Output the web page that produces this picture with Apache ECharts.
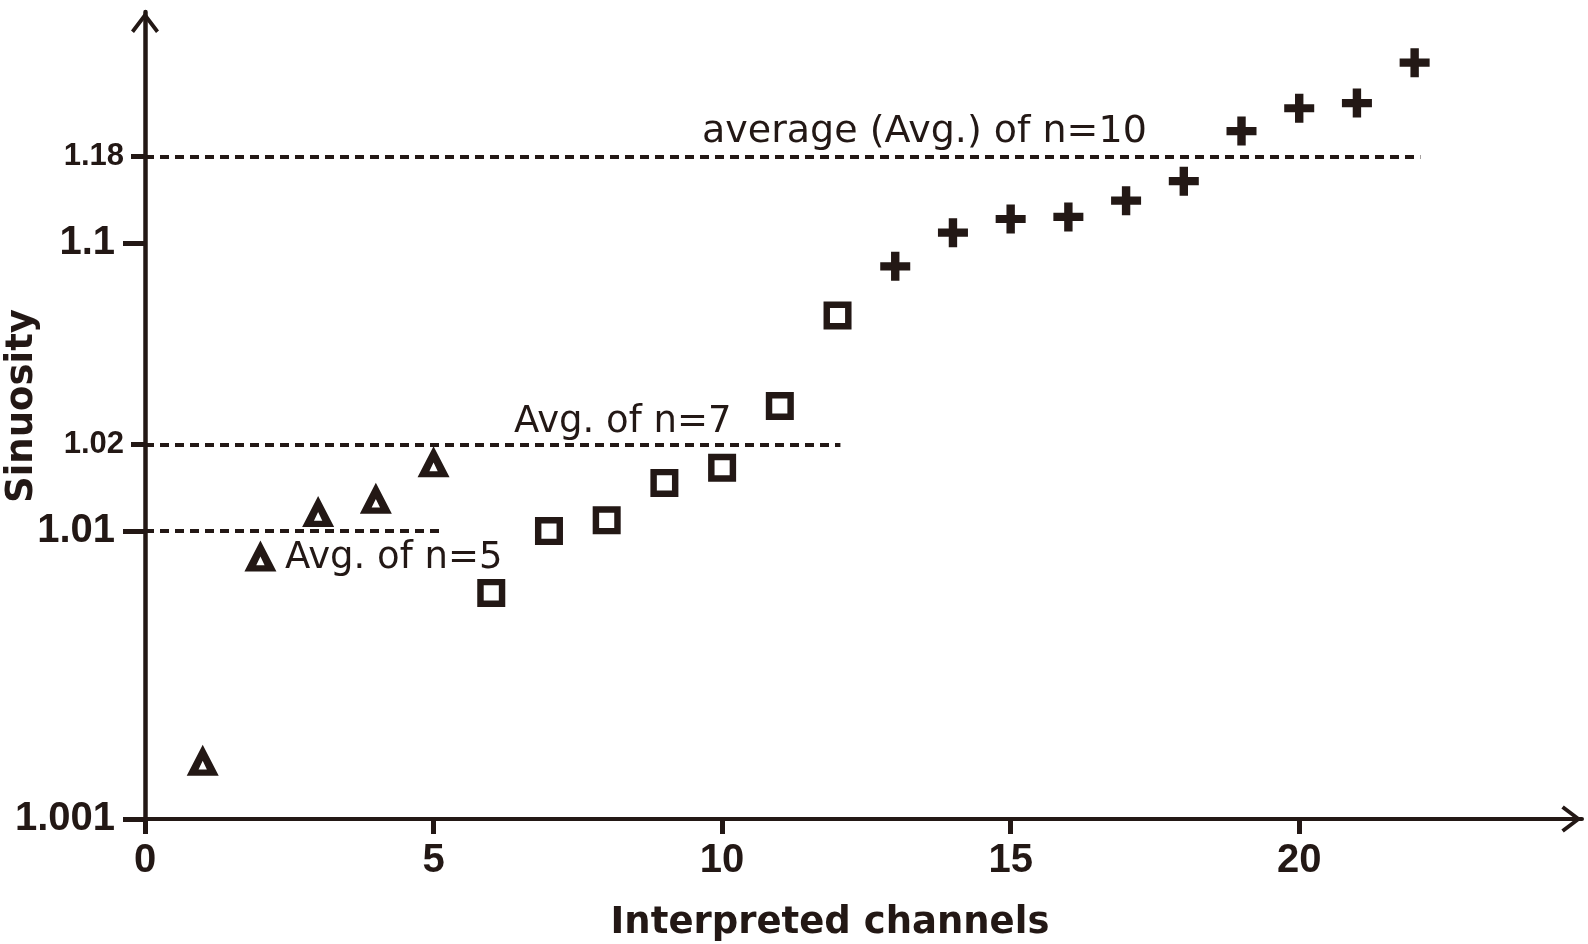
<!DOCTYPE html>
<html>
<head>
<meta charset="utf-8">
<script src="https://cdn.jsdelivr.net/npm/echarts@6/dist/echarts.min.js"></script>
<style>html,body{margin:0;padding:0;background:#fff}#c{width:1588px;height:944px}</style>
</head>
<body>
<div id="c"></div>
<script>
// ---- data ----
const triangleChannels = [1, 2, 3, 4, 5];
const triangleSinuosity = [1.0016, 1.0082, 1.0117, 1.0130, 1.0174];
const squareChannels = [6, 7, 8, 9, 10, 11, 12];
const squareSinuosity = [1.0061, 1.0100, 1.0109, 1.0147, 1.0166, 1.0272, 1.0561];
const plusChannels = [13, 14, 15, 16, 17, 18, 19, 20, 21, 22];
const plusSinuosity = [1.0831, 1.1088, 1.1213, 1.1234, 1.1405, 1.1642, 1.2451, 1.2943, 1.3066, 1.4236];

const averageLevels = [1.01, 1.02, 1.2];          // where the dashed lines sit on the axis
const averageEnds = [5.1, 12.05, 22.1];           // channel where each dashed line stops
const averageLabels = ['Avg. of n=5', 'Avg. of n=7', 'average (Avg.) of n=10'];

const xTicks = [0, 5, 10, 15, 20];
const yMajorTicks = [1.001, 1.01, 1.1];
const yMajorLabels = ['1.001', '1.01', '1.1'];
const yMinorTicks = [1.02, 1.2];
const yMinorLabels = ['1.02', '1.18'];

// ---- helpers ----
const INK = '#231815';
const t = s => Math.log10(+(s - 1).toFixed(6));   // log scale of (sinuosity - 1)
const Y_MIN = t(1.001);
const Y_MAX = -0.197;
const fmt = (ticks, labels) => v => {
  for (let i = 0; i < ticks.length; i++) if (Math.abs(t(ticks[i]) - v) < 1e-6) return labels[i];
  return '';
};
const pts = (xs, ys) => xs.map((x, i) => [x, t(ys[i])]);

const TRI = 'path://M0,100L50,0L100,100ZM37,80L63,80L50,52Z';
const SQR = 'path://M0,0L100,0L100,100L0,100ZM23,23L23,77L77,77L77,23Z';
const PLUS = 'path://M0,36L36,36L36,0L64,0L64,36L100,36L100,64L64,64L64,100L36,100L36,64L0,64Z';
const CHEV = 'path://M14,0L28,18.5L25,21L14,6.5L3,21L0,18.5Z';

const labelPos = ['insideStartBottom', 'insideStartTop', 'insideStartTop'];
const labelDist = [[140, 9], [369, 4], [557, 5]];
const labelSize = [37, 37, 38];

function avgLine(i) {
  return [
    { coord: [0, t(averageLevels[i])],
      label: { show: true, formatter: averageLabels[i], position: labelPos[i], distance: labelDist[i],
               color: INK, fontFamily: 'DejaVu Sans', fontSize: labelSize[i] } },
    { coord: [averageEnds[i], t(averageLevels[i])] }
  ];
}
const markLineBase = {
  silent: true, animation: false, symbol: ['none', 'none'],
  lineStyle: { color: INK, width: 4, type: [9, 6] }
};

const chart = echarts.init(document.getElementById('c'), null, { renderer: 'canvas' });
chart.setOption({
  animation: false,
  backgroundColor: '#ffffff',
  textStyle: { fontFamily: 'Liberation Sans', color: INK },
  grid: { left: 145, right: 6, top: 12, bottom: 125, containLabel: false, outerBoundsMode: 'none' },
  xAxis: {
    type: 'value', min: 0, max: 24.9,
    axisLine: { show: true, onZero: false, symbol: ['none', CHEV], symbolSize: [27, 21], symbolOffset: [0, -10.5],
                lineStyle: { color: INK, width: 4 } },
    axisTick: { show: true, customValues: xTicks, length: 15, lineStyle: { color: INK, width: 5 } },
    axisLabel: { customValues: xTicks, margin: 22, fontSize: 40, fontWeight: 'bold', fontFamily: 'Liberation Sans', color: INK },
    splitLine: { show: false },
    name: 'Interpreted channels', nameLocation: 'middle', nameGap: 86, nameMoveOverlap: false,
    nameTextStyle: { fontSize: 37, fontWeight: 'bold', fontFamily: 'DejaVu Sans', color: INK, padding: [0, 67, 0, 0] }
  },
  yAxis: [
    {
      type: 'value', position: 'left', min: Y_MIN, max: Y_MAX,
      axisLine: { show: true, onZero: false, symbol: ['none', CHEV], symbolSize: [28, 21], symbolOffset: [0, -10.5],
                  lineStyle: { color: INK, width: 4.5 } },
      axisTick: { show: true, customValues: yMajorTicks.map(t), length: 22, lineStyle: { color: INK, width: 5 } },
      axisLabel: { customValues: yMajorTicks.map(t), margin: 30, formatter: fmt(yMajorTicks, yMajorLabels),
                   fontSize: 40, fontWeight: 'bold', fontFamily: 'Liberation Sans', color: INK, padding: [3, 0, 0, 0] },
      splitLine: { show: false },
      name: 'Sinuosity', nameLocation: 'middle', nameGap: 104, nameMoveOverlap: false,
      nameTextStyle: { fontSize: 37, fontWeight: 'bold', fontFamily: 'DejaVu Sans', color: INK, padding: [0, 0, 0, 19] }
    },
    {
      type: 'value', position: 'left', min: Y_MIN, max: Y_MAX,
      axisLine: { show: false },
      axisTick: { show: true, customValues: yMinorTicks.map(t), length: 14, lineStyle: { color: INK, width: 5 } },
      axisLabel: { customValues: yMinorTicks.map(t), margin: 21, formatter: fmt(yMinorTicks, yMinorLabels),
                   fontSize: 31, fontWeight: 'bold', fontFamily: 'Liberation Sans', color: INK, padding: [6, 0, 0, 0] },
      splitLine: { show: false }
    }
  ],
  series: [
    {
      name: 'n=5', type: 'scatter', yAxisIndex: 0, data: pts(triangleChannels, triangleSinuosity),
      symbol: TRI, symbolSize: [32, 31], itemStyle: { color: INK, opacity: 1 },
      markLine: Object.assign({}, markLineBase, { data: [avgLine(0)] })
    },
    {
      name: 'n=7', type: 'scatter', yAxisIndex: 0, data: pts(squareChannels, squareSinuosity),
      symbol: SQR, symbolSize: [28, 28], itemStyle: { color: INK, opacity: 1 },
      markLine: Object.assign({}, markLineBase, { data: [avgLine(1)] })
    },
    {
      name: 'n=10', type: 'scatter', yAxisIndex: 0, data: pts(plusChannels, plusSinuosity),
      symbol: PLUS, symbolSize: [30, 29], itemStyle: { color: INK, opacity: 1 },
      markLine: Object.assign({}, markLineBase, { data: [avgLine(2)] })
    }
  ]
});
</script>
</body>
</html>
